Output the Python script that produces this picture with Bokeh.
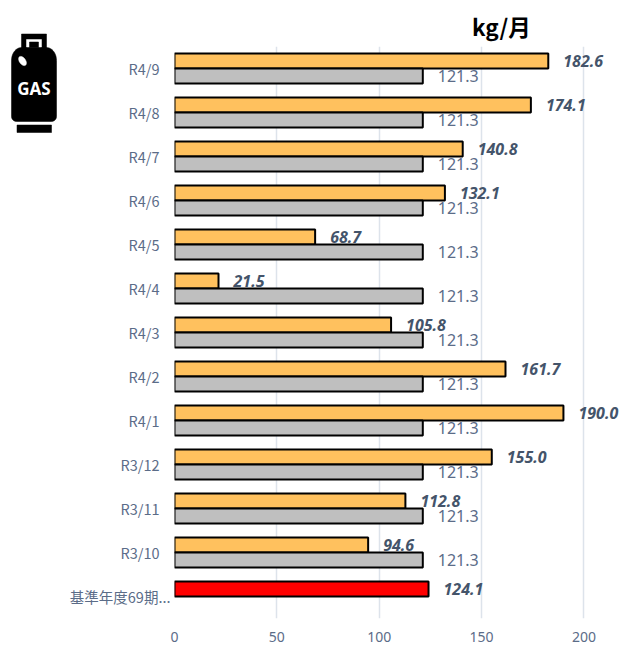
import numpy as np
from bokeh.plotting import figure
from bokeh.layouts import row, column
from bokeh.models import ColumnDataSource, FactorRange, Range1d, FixedTicker, Title
from bokeh.core.properties import value
from bokeh.transform import dodge
from bokeh.embed import file_html
from bokeh.resources import INLINE

categories = ["基準年度69期...", "R3/10", "R3/11", "R3/12", "R4/1", "R4/2", "R4/3", "R4/4", "R4/5", "R4/6", "R4/7", "R4/8", "R4/9"]
actual = [None, 94.6, 112.8, 155.0, 190.0, 161.7, 105.8, 21.5, 68.7, 132.1, 140.8, 174.1, 182.6]
baseline = [None, 121.3, 121.3, 121.3, 121.3, 121.3, 121.3, 121.3, 121.3, 121.3, 121.3, 121.3, 121.3]
reference_year = [124.1]
x_ticks = [0, 50, 100, 150, 200]

ICON_W = 64
W, H = 620 - ICON_W, 648
FRAME_L, FRAME_T, FRAME_B = 174.5, 46, 618
LEFT = int(round(FRAME_L - ICON_W))
TOP, BOTTOM = FRAME_T, H - FRAME_B
GRID = "#DDE3EB"
TEXT = "#44546A"
TICK = "#5B6C88"

# the month labels sit about 10px further from the axis than the clipped base-year label
factors = [categories[0]] + [c + "\u2007\u2009" for c in categories[1:]]

p = figure(width=W, height=H, output_backend="svg", toolbar_location=None,
           y_range=FactorRange(factors=factors, range_padding=0, factor_padding=0, group_padding=0),
           x_range=Range1d(0, (W - LEFT) / 2.047),
           min_border_left=LEFT, min_border_right=0, min_border_top=TOP, min_border_bottom=BOTTOM)
p.outline_line_color = None
p.background_fill_color = None
p.border_fill_color = None
p.ygrid.grid_line_color = None
p.xgrid.grid_line_color = GRID
p.xgrid.grid_line_width = 1.5
p.xgrid.ticker = FixedTicker(ticks=x_ticks)

p.xaxis.ticker = FixedTicker(ticks=x_ticks)
p.xaxis.axis_line_color = None
p.xaxis.major_tick_line_color = None
p.xaxis.minor_tick_line_color = None
p.xaxis.major_label_text_font = "Noto Sans"
p.xaxis.major_label_text_font_size = "14px"
p.xaxis.major_label_text_color = TICK
p.xaxis.major_label_standoff = 7

p.yaxis.axis_line_color = None
p.yaxis.major_tick_line_color = None
p.yaxis.major_tick_out = 0
p.yaxis.major_label_text_font = "Noto Sans CJK JP"
p.yaxis.major_label_text_font_size = "14.5px"
p.yaxis.major_label_text_color = TICK
p.yaxis.major_label_standoff = 4

src = ColumnDataSource(dict(
    cat=factors[1:], a=actual[1:], b=baseline[1:],
    a_txt=[f"{v:.1f}" for v in actual[1:]],
    b_txt=[f"{v:.1f}" for v in baseline[1:]],
))
ref = ColumnDataSource(dict(cat=factors[:1], a=reference_year, a_txt=[f"{v:.1f}" for v in reference_year]))

OFF = 0.17
BAR = 0.34
upper = dodge("cat", OFF, range=p.y_range)
lower = dodge("cat", -OFF, range=p.y_range)

p.hbar(y=upper, right="a", left=0, height=BAR, source=src, fill_color="#FFC15E", line_color="black", line_width=2)
p.hbar(y=lower, right="b", left=0, height=BAR, source=src, fill_color="#BFBFBF", line_color="black", line_width=2)
p.hbar(y=upper, right="a", left=0, height=BAR, source=ref, fill_color="#FF0000", line_color="black", line_width=2)

for s in (src, ref):
    p.text(x="a", y=upper, text="a_txt", source=s, x_offset=15, text_baseline="middle", text_align="left",
           text_font=value("Noto Sans"), text_font_style="bold italic", text_font_size="16px", text_color=TEXT)
p.text(x="b", y=lower, text="b_txt", source=src, x_offset=15, text_baseline="middle", text_align="left",
       text_font=value("Noto Sans"), text_font_size="16px", text_color=TICK)

p.add_layout(Title(text="kg/月", align="left", offset=472 - FRAME_L, standoff=9,
                   text_font="Noto Sans CJK JP", text_font_style="bold", text_font_size="22.5px",
                   text_color="black"), "above")

# --- gas-cylinder icon: its own small figure, in page pixels ---
icon = figure(width=ICON_W, height=H, output_backend="svg", toolbar_location=None,
              x_range=Range1d(0, ICON_W), y_range=Range1d(H, 0), min_border=0)
icon.axis.visible = False
icon.grid.visible = False
icon.outline_line_color = None
icon.background_fill_color = None
icon.border_fill_color = None

def rect(x0, y0, x1, y1, color):
    icon.patch([x0, x1, x1, x0], [y0, y0, y1, y1], fill_color=color, line_color=color, line_width=0.5)

t = np.linspace(0, np.pi / 2, 12)
body_x = np.concatenate([21 - 10 * np.cos(t), 46 + 10 * np.sin(t), 56 - 5 * (1 - np.cos(t)), 11 + 5 * (1 - np.sin(t))])
body_y = np.concatenate([60 - 13 * np.sin(t), 47 + 13 * (1 - np.cos(t)), 116 + 5 * np.sin(t), 121 - 5 * (1 - np.cos(t))])
icon.patch(list(body_x), list(body_y), fill_color="black", line_color="black", line_width=0.5)
rect(21, 33.5, 46, 50, "black")
rect(26, 39, 41, 46.5, "white")
rect(29, 41.5, 38, 47, "black")
rect(16.5, 124.5, 51, 132, "black")
a = np.linspace(0, 2 * np.pi, 24)
icon.patch(list(22 + 3 * np.cos(a) + 2.5 * np.sin(a)), list(60.5 + 4.5 * np.sin(a) - 1 * np.cos(a)),
           fill_color="white", line_color="white", line_width=0.5)
icon.text(x=[33.5], y=[88], text=["GAS"], text_align="center", text_baseline="middle",
          text_font=value("Noto Sans"), text_font_style="bold", text_font_size="17px", text_color="white")

layout = row(column(icon), column(p), spacing=0)
open("out.html", "w").write(file_html(layout, INLINE))
